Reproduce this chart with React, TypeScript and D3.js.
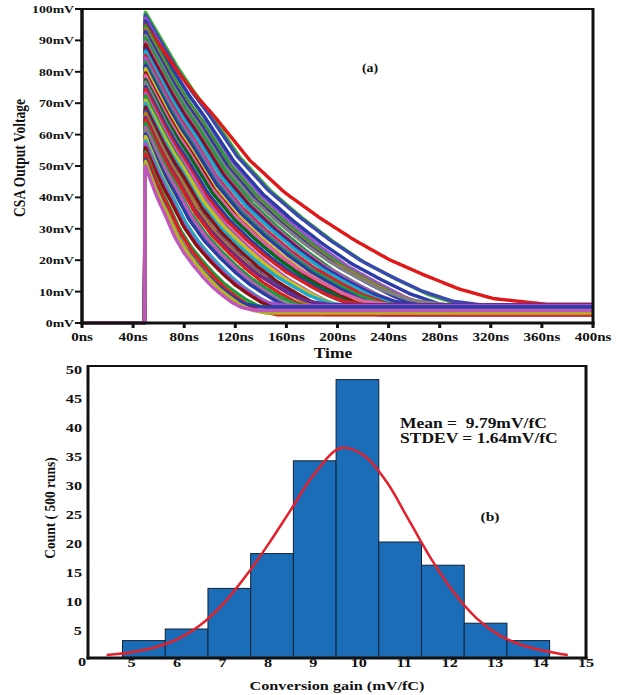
import React from 'react';
import * as d3 from 'd3';

// ---------- Panel (a): CSA output transients ----------
const timeTicks = [0, 40, 80, 120, 160, 200, 240, 280, 320, 360, 400];
const voltTicks = [0, 10, 20, 30, 40, 50, 60, 70, 80, 90, 100];
const riseStart = 49;
const peakTime = 49.6;
// per-trace peak (mV), time where trace settles (ns), settled level (mV)
const peaks = [50, 51.5, 52.2, 53.8, 54.5, 55.9, 57.1, 58.0, 59.4, 60.2, 61.5, 62.3, 63.6, 64.8, 65.5, 66.9, 67.7, 68.8, 70.1, 71.0, 72.4, 73.2, 74.5, 75.3, 76.8, 77.6, 78.9, 79.7, 81.0, 82.2, 83.1, 84.4, 85.2, 86.6, 87.3, 88.7, 89.5, 90.8, 91.6, 92.9, 93.7, 94.6, 95.0, 96.2, 97.1, 98.0, 99.0];
const settleTimes = [125, 132, 128, 140, 138, 150, 146, 158, 152, 165, 160, 172, 168, 180, 176, 188, 184, 196, 192, 204, 198, 210, 206, 216, 212, 224, 220, 230, 226, 236, 232, 242, 238, 248, 244, 254, 250, 260, 256, 266, 262, 272, 322, 280, 276, 290, 296];
const floors = [4.0, 3.2, 5.1, 2.6, 4.5, 3.8, 5.5, 2.9, 4.2, 3.5, 5.0, 2.7, 4.8, 3.3, 5.8, 3.0, 4.4, 2.8, 5.2, 3.6, 4.6, 2.5, 5.4, 3.9, 4.1, 3.1, 5.6, 2.7, 4.3, 3.4, 5.0, 2.9, 4.7, 3.7, 5.3, 3.0, 4.5, 2.6, 5.7, 3.5, 4.9, 3.2, 6.0, 4.2, 3.0, 5.1, 3.8];
const traceColors = ['#c055c0', '#b4b41e', '#2a3ca8', '#d82020', '#1e9a3c', '#8c1010', '#a050c8', '#22a8cc', '#c8c020', '#2a3ca8', '#808080', '#c055c0', '#1e9a3c', '#d82020', '#6a2a90', '#b07a20', '#2a3ca8', '#8c1010', '#22a8cc', '#c8c020', '#1e9a3c', '#c055c0', '#d82020', '#2a3ca8', '#808080', '#006a20', '#e060a0', '#8c1010', '#c8c020', '#2a3ca8', '#1e9a3c', '#a050c8', '#d82020', '#22a8cc', '#2a3ca8', '#8c1010', '#c055c0', '#1e9a3c', '#808080', '#2a3ca8', '#b07a20', '#1e9a3c', '#e01818', '#2a3ca8', '#a050c8', '#3a48b0', '#3cb030'];
// normalised decay profile
const shapeU = [0, 0.05, 0.1, 0.15, 0.2, 0.3, 0.4, 0.5, 0.6, 0.7, 0.8, 0.9, 1.0, 1.15];
const shapeV = [1, 0.91, 0.82, 0.74, 0.67, 0.515, 0.40, 0.31, 0.23, 0.16, 0.105, 0.055, 0.02, 0];

// ---------- Panel (b): histogram ----------
const binStarts = [4.8, 5.74, 6.68, 7.62, 8.56, 9.5, 10.44, 11.38, 12.32, 13.26];
const binEnds = [5.74, 6.68, 7.62, 8.56, 9.5, 10.44, 11.38, 12.32, 13.26, 14.2];
const counts = [3, 5, 12, 18, 34, 48, 20, 16, 6, 3];
const fitX = [4.45, 5.0, 5.5, 6.0, 6.5, 7.0, 7.5, 8.0, 8.5, 9.0, 9.6, 10.1, 10.6, 11.1, 11.6, 12.1, 12.6, 13.1, 13.6, 14.1, 14.6];
const fitY = [0.5, 1.0, 1.8, 3.2, 5.6, 9.2, 14.0, 19.5, 25.5, 31.5, 36.2, 35.0, 30.5, 23.8, 17.0, 11.2, 6.8, 3.9, 2.2, 1.2, 0.5];
const gainTicks = [5, 6, 7, 8, 9, 10, 11, 12, 13, 14, 15];
const countTicks = [0, 5, 10, 15, 20, 25, 30, 35, 40, 45, 50];

const FONT = "'Liberation Serif', 'Times New Roman', serif";

function T(props: { x: number; y: number; size: number; anchor?: string; sx?: number; children: any; rot?: boolean }) {
  const { x, y, size, anchor = 'middle', sx = 1.25, children, rot } = props;
  const tr = rot
    ? `translate(${x},${y}) rotate(-90) scale(1,${sx})`
    : `translate(${x},${y}) scale(${sx},1)`;
  return (
    <text transform={tr} textAnchor={anchor} fontSize={size} fontWeight="bold" fontFamily={FONT} fill="#111" style={{ whiteSpace: 'pre' }}>
      {children}
    </text>
  );
}

export default function App() {
  // panel a scales
  const xa = d3.scaleLinear().domain([0, 400]).range([82, 593]);
  const ya = d3.scaleLinear().domain([0, 100]).range([323, 9]);
  const shape = d3.scaleLinear().domain(shapeU).range(shapeV).clamp(true);
  const lineA = d3.line<[number, number]>().x(d => xa(d[0])).y(d => ya(d[1])).curve(d3.curveMonotoneX);

  const sampleTimes: number[] = d3.range(peakTime, 400.01, 2);
  const traces = peaks.map((p, i) => {
    const e = settleTimes[i];
    const f = floors[i];
    const pts: [number, number][] = [[0, 0], [riseStart, 0], [peakTime - 0.3, p * 0.98]];
    sampleTimes.forEach(t => {
      const u = (t - peakTime) / (e - peakTime);
      pts.push([t, f + (p - f) * shape(u)]);
    });
    return { d: lineA(pts) as string, color: traceColors[i] };
  });
  const order = d3.range(traces.length).reverse();

  // panel b scales
  const xb = d3.scaleLinear().domain([4.04, 15]).range([88, 586]);
  const yb = d3.scaleLinear().domain([0, 50]).range([658, 368]);
  const fitLine = d3.line<number>().x((d, i) => xb(fitX[i])).y(d => yb(d)).curve(d3.curveCatmullRom);

  return (
    <svg width={619} height={695} style={{ position: 'absolute', left: 0, top: 0, background: '#fff' }}>
      <rect width={619} height={695} fill="#fff" />
      {/* ===== Panel a ===== */}
      <g>
        {order.map(i => (
          <path key={i} d={traces[i].d} fill="none" stroke={traces[i].color} strokeWidth={3.4} strokeLinejoin="round" />
        ))}
        {/* frame */}
        <line x1={xa(0)} x2={xa(400)} y1={ya(100)} y2={ya(100)} stroke="#111" strokeWidth={2} />
        <line x1={xa(400)} x2={xa(400)} y1={ya(100) - 1} y2={ya(0) + 1.5} stroke="#111" strokeWidth={3} />
        <line x1={xa(0)} x2={xa(0)} y1={ya(100) - 1} y2={ya(0) + 1.5} stroke="#111" strokeWidth={3.5} />
        <line x1={xa(0) - 1.5} x2={xa(400) + 1.5} y1={ya(0)} y2={ya(0)} stroke="#111" strokeWidth={3} />
        {voltTicks.map(v => (
          <g key={v}>
            <line x1={xa(0) - 7} x2={xa(0)} y1={ya(v)} y2={ya(v)} stroke="#111" strokeWidth={2} />
            <T x={xa(0) - 8} y={ya(v) + 4} size={11} anchor="end">{`${v}mV`}</T>
          </g>
        ))}
        {timeTicks.map(t => (
          <g key={t}>
            <line x1={xa(t)} x2={xa(t)} y1={ya(0)} y2={ya(0) + 5} stroke="#111" strokeWidth={3} />
            <T x={xa(t)} y={341} size={12}>{`${t}ns`}</T>
          </g>
        ))}
        <T x={333} y={358} size={14}>Time</T>
        <T x={25} y={158} size={13.5} rot sx={1.2}>CSA Output Voltage</T>
        <T x={370} y={72} size={12} sx={1.15}>(a)</T>
      </g>

      {/* ===== Panel b ===== */}
      <g>
        {counts.map((c, i) => (
          <rect key={i} x={xb(binStarts[i])} y={yb(c)} width={xb(binEnds[i]) - xb(binStarts[i])} height={yb(0) - yb(c)}
            fill="#1c6db8" stroke="#0e2238" strokeWidth={1} />
        ))}
        <path d={fitLine(fitY) as string} fill="none" stroke="#e4202a" strokeWidth={2.5} />
        <line x1={xb(4.04)} x2={xb(15)} y1={366} y2={366} stroke="#111" strokeWidth={2} />
        <line x1={xb(15)} x2={xb(15)} y1={365} y2={yb(0) + 1.5} stroke="#111" strokeWidth={3} />
        <line x1={xb(4.04)} x2={xb(4.04)} y1={365} y2={yb(0) + 1.5} stroke="#111" strokeWidth={3} />
        <line x1={xb(4.04) - 1.5} x2={xb(15) + 1.5} y1={yb(0)} y2={yb(0)} stroke="#111" strokeWidth={3} />
        {countTicks.map(v => (
          v === 0
            ? <T key={v} x={82} y={yb(v) + 8} size={13} anchor="middle">{`${v}`}</T>
            : <T key={v} x={82} y={yb(v) + 6} size={13} anchor="end">{`${v}`}</T>
        ))}
        {gainTicks.map(g => (
          <T key={g} x={xb(g)} y={667} size={13}>{`${g}`}</T>
        ))}
        <T x={337} y={690} size={13}>Conversion gain (mV/fC)</T>
        <T x={55} y={508} size={13.5} rot sx={1.15}>Count ( 500 runs)</T>
        <T x={400} y={428} size={14} anchor="start">{'Mean =  9.79mV/fC'}</T>
        <T x={400} y={443} size={14} anchor="start">{'STDEV = 1.64mV/fC'}</T>
        <T x={490} y={521} size={13} sx={1.2}>(b)</T>
      </g>
    </svg>
  );
}
